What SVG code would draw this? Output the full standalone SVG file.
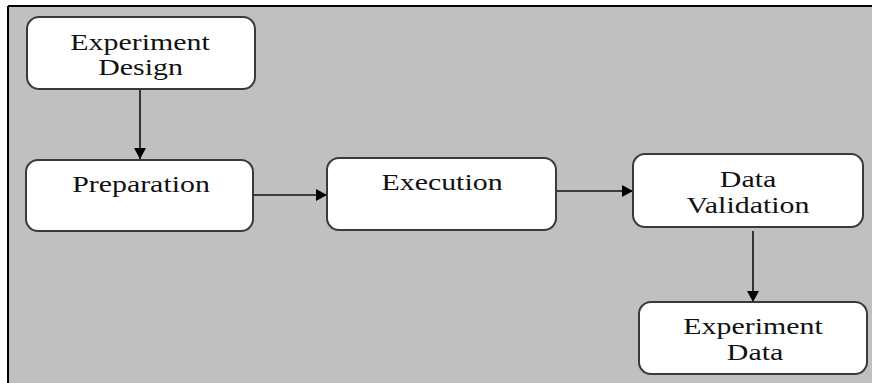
<svg xmlns="http://www.w3.org/2000/svg" width="872" height="383" viewBox="0 0 872 383">
<style>
.node rect{fill:#ffffff;stroke:#3a3a3a;stroke-width:2}
.node text{font-family:"Liberation Serif","Times New Roman",serif;font-size:23px;fill:#111;text-anchor:middle}
.conn line{stroke:#111;stroke-width:1.6}
</style>
<defs>
<marker id="ah" markerWidth="12" markerHeight="12" refX="11" refY="6" orient="auto" markerUnits="userSpaceOnUse">
<path d="M0,0 L11,6 L0,12 Z" fill="#000"/>
</marker>
</defs>
<rect x="0" y="0" width="872" height="383" fill="#ffffff"/>
<rect x="8" y="6" width="864" height="377" fill="#c0c0c0"/>
<line x1="8" y1="6" x2="872" y2="6" stroke="#000" stroke-width="2"/>
<line x1="8" y1="6" x2="8" y2="383" stroke="#000" stroke-width="2"/>
<g class="conn">
<line x1="140" y1="89" x2="140" y2="159" marker-end="url(#ah)"/>
<line x1="254" y1="195" x2="327" y2="195" marker-end="url(#ah)"/>
<line x1="556" y1="191" x2="633" y2="191" marker-end="url(#ah)"/>
<line x1="753" y1="231" x2="753" y2="302" marker-end="url(#ah)"/>
</g>
<g id="experiment-design" class="node">
<rect x="27" y="17" width="228" height="72" rx="12"/>
<text transform="translate(140,50) scale(1.3,1)">Experiment</text>
<text transform="translate(140.5,75) scale(1.3,1)">Design</text>
</g>
<g id="preparation" class="node">
<rect x="26" y="160" width="227" height="71" rx="12"/>
<text transform="translate(141,192) scale(1.3,1)">Preparation</text>
</g>
<g id="execution" class="node">
<rect x="327" y="158" width="229" height="72" rx="12"/>
<text transform="translate(442,190) scale(1.3,1)">Execution</text>
</g>
<g id="data-validation" class="node">
<rect x="633" y="154" width="230" height="73" rx="12"/>
<text transform="translate(748,187) scale(1.3,1)">Data</text>
<text transform="translate(748,213) scale(1.3,1)">Validation</text>
</g>
<g id="experiment-data" class="node">
<rect x="639" y="302" width="228" height="72" rx="12"/>
<text transform="translate(753,334) scale(1.3,1)">Experiment</text>
<text transform="translate(755,360) scale(1.3,1)">Data</text>
</g>
</svg>
